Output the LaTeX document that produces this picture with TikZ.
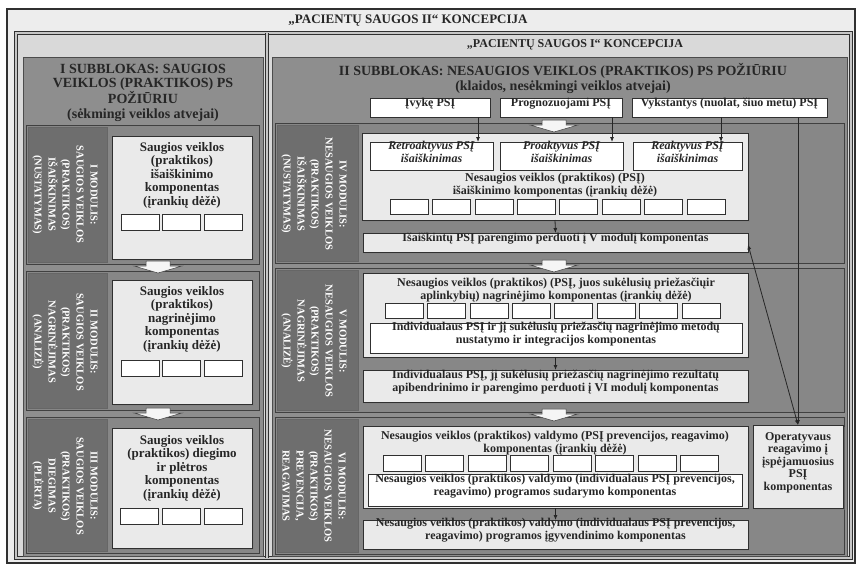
\documentclass[tikz,border=0pt]{standalone}
\usepackage{fontspec}
\setmainfont{Liberation Serif}
\usetikzlibrary{shadows,calc,fit,arrows.meta}
\definecolor{outerbg}{HTML}{EDEDED}
\definecolor{headbg}{HTML}{D9D9D9}
\definecolor{subbg}{HTML}{8E8E8E}
\definecolor{modbg}{HTML}{878787}
\definecolor{labbg}{HTML}{6E6E6E}
\definecolor{compbg}{HTML}{EAEAEA}
\definecolor{edge}{HTML}{303030}
\tikzset{
  frm/.style={draw=edge, line width=1pt},
  rect/.style={inner sep=0pt, outer sep=0pt},
  subfr/.style={rect, draw=black!70, fill=subbg, line width=.8pt},
  modfr/.style={rect, draw=black!75, fill=modbg, line width=.8pt},
  labcol/.style={rect, draw=black!60, fill=labbg, line width=.6pt},
  labtxt/.style={text=white, font=\bfseries\fontsize{10.5}{14}\selectfont, align=center, rotate=-90, inner sep=0pt},
  comp/.style={rect, draw=edge, fill=compbg, line width=.6pt, drop shadow={shadow xshift=1.5pt, shadow yshift=-1.5pt, opacity=.5}},
  wbox/.style={rect, draw=edge, fill=white, line width=.8pt, drop shadow={shadow xshift=1.2pt, shadow yshift=-1.2pt, opacity=.5}},
  tinybox/.style={draw=edge, fill=white, line width=.6pt, minimum width=38pt, minimum height=16pt, inner sep=0pt},
  ltext/.style={font=\bfseries\fontsize{13}{13.5}\selectfont, align=center, text=black!85, inner sep=0pt},
  rtext/.style={font=\bfseries\fontsize{12}{13}\selectfont, align=center, text=black!85},
  ititle/.style={font=\bfseries\fontsize{12}{12.5}\selectfont\itshape, align=center, text=black!85},
  sbtitle/.style={font=\bfseries\fontsize{14}{14.5}\selectfont, align=center, text=black!85, inner sep=0pt},
  arr/.style={-{Latex[length=5pt,width=4pt]}, line width=.8pt, draw=black!85},
  darr/.style={{Latex[length=5pt,width=4pt]}-{Latex[length=5pt,width=4pt]}, line width=.8pt, draw=black!85},
  blkarrow/.pic={\filldraw[fill=gray!8, draw=gray!50!black, line width=.5pt]
     (-12,-6) -- (12,-6) -- (12,-1) -- (24,-1) -- (0,6) -- (-24,-1) -- (-12,-1) -- cycle;}
}
\begin{document}
\begin{tikzpicture}[x=1pt,y=-1pt]
\useasboundingbox[fill=white] (0,0) rectangle (859,568);
% outer frames
\node[rect, frm, fill=outerbg, line width=1.3pt, fit={(7,9) (855,563)}] (outer) {};
\node[font=\bfseries\fontsize{13}{14}\selectfont, text=black!85] (title1) at (408,21) {„PACIENTŲ SAUGOS II“ KONCEPCIJA};
\node[rect, frm, fill=headbg, double=gray!45, double distance=1.2pt, fit={(16,33) (851,558)}] (inner) {};
\coordinate (dtop) at (267,33);
\coordinate (dbot) at (267,558);
\draw[frm, double=gray!45, double distance=1.2pt] (dtop) -- (dbot);
\node[font=\bfseries\fontsize{12}{13}\selectfont, text=black!85] (title2) at (575,45) {„PACIENTŲ SAUGOS I“ KONCEPCIJA};

% subblocks
\node[subfr, fit={(23,57) (263,556)}] (sub1) {};
\node[sbtitle] (sub1t) at (143,92.5) {I SUBBLOKAS: SAUGIOS\\VEIKLOS (PRAKTIKOS) PS\\POŽIŪRIU\\(sėkmingi veiklos atvejai)};
\node[subfr, fit={(272,57) (847,556)}] (sub2) {};
\node[sbtitle] (sub2t) at (563,78.5) {II SUBBLOKAS: NESAUGIOS VEIKLOS (PRAKTIKOS) PS POŽIŪRIU\\(klaidos, nesėkmingi veiklos atvejai)};

% ---------- left modules ----------
\node[modfr, fit={(26,125) (259,264)}] (m1) {};
\node[labcol, fit={(28,127) (107,262)}] (m1l) {};
\node[labtxt] (m1lt) at (65,194.5) {I MODULIS:\\SAUGIOS VEIKLOS\\(PRAKTIKOS)\\IŠAIŠKINIMAS\\(NUSTATYMAS)};
\node[comp, fit={(112,136) (252,259)}] (m1c) {};
\node[ltext] (m1ct) at (182,175) {Saugios veiklos\\(praktikos)\\išaiškinimo\\komponentas\\(įrankių dėžė)};
\foreach \i in {0,1,2} \node[tinybox] (m1b\i) at ({140+41.5*\i},222.5) {};

\node[modfr, fit={(26,271) (259,410)}] (m2) {};
\node[labcol, fit={(28,273) (107,408)}] (m2l) {};
\node[labtxt] (m2lt) at (65,342) {II MODULIS:\\SAUGIOS VEIKLOS\\(PRAKTIKOS)\\NAGRINĖJIMAS\\(ANALIZĖ)};
\node[comp, fit={(112,280) (252,404)}] (m2c) {};
\node[ltext] (m2ct) at (182,319) {Saugios veiklos\\(praktikos)\\nagrinėjimo\\komponentas\\(įrankių dėžė)};
\foreach \i in {0,1,2} \node[tinybox] (m2b\i) at ({140+41.5*\i},368) {};

\node[modfr, fit={(26,417) (259,553)}] (m3) {};
\node[labcol, fit={(28,419) (107,551)}] (m3l) {};
\node[labtxt] (m3lt) at (65,486) {III MODULIS:\\SAUGIOS VEIKLOS\\(PRAKTIKOS)\\DIEGIMAS\\(PLĖRTA)};
\node[comp, fit={(112,428) (252,548)}] (m3c) {};
\node[ltext] (m3ct) at (182,468) {Saugios veiklos\\(praktikos) diegimo\\ir plėtros\\komponentas\\(įrankių dėžė)};
\foreach \i in {0,1,2} \node[tinybox] (m3b\i) at ({139+42*\i},516.5) {};

\pic at (158,267) {blkarrow};
\pic at (158,414) {blkarrow};

% ---------- right: sources ----------
\node[wbox, rtext, fit={(370,98) (490,117)}] (s1) {Įvykę PSĮ};
\node[wbox, rtext, fit={(500,98) (622,117)}] (s2) {Prognozuojami PSĮ};
\node[wbox, rtext, fit={(632,98) (827,117)}] (s3) {Vykstantys (nuolat, šiuo metu) PSĮ};

% module IV
\node[modfr, fit={(275,123) (844,263)}] (m4) {};
\node[labcol, fit={(277,125) (358,261)}] (m4l) {};
\node[labtxt] (m4lt) at (314,194) {IV MODULIS:\\NESAUGIOS VEIKLOS\\(PRAKTIKOS)\\IŠAIŠKINIMAS\\(NUSTATYMAS)};
\node[comp, fit={(362,133) (748,220)}] (m4c) {};
\node[wbox, ititle, fit={(370,142) (493,170)}] (r1) {Retroaktyvus PSĮ\\išaiškinimas};
\node[wbox, ititle, fit={(500,142) (623,170)}] (r2) {Proaktyvus PSĮ\\išaiškinimas};
\node[wbox, ititle, fit={(633,142) (742,170)}] (r3) {Reaktyvus PSĮ\\išaiškinimas};
\node[rtext, font=\bfseries\fontsize{12}{12.5}\selectfont, inner sep=0pt] (m4ct) at (555,185) {Nesaugios veiklos (praktikos) (PSĮ)\\išaiškinimo komponentas (įrankių dėžė)};
\foreach \i in {0,...,7} \node[tinybox, minimum height=15pt] (m4b\i) at ({409+42.4*\i},206.5) {};
\node[comp, rtext, fit={(363,233) (748,252)}] (isk) {Išaiškintų PSĮ parengimo perduoti į  V modulį  komponentas};

% module V
\node[modfr, fit={(275,268) (844,412)}] (m5) {};
\node[labcol, fit={(277,270) (358,410)}] (m5l) {};
\node[labtxt] (m5lt) at (314,341) {V MODULIS:\\NESAUGIOS VEIKLOS\\(PRAKTIKOS)\\NAGRINĖJIMAS\\(ANALIZĖ)};
\node[comp, fit={(363,273) (748,357)}] (m5c) {};
\node[rtext, inner sep=0pt] (m5ct) at (556,290.5) {Nesaugios veiklos (praktikos) (PSĮ, juos sukėlusių priežasčiųir\\aplinkybių) nagrinėjimo komponentas (įrankių dėžė)};
\foreach \i in {0,...,7} \node[tinybox, minimum height=15pt] (m5b\i) at ({404+42.4*\i},310.5) {};
\node[wbox, rtext, fit={(370,323) (742,353)}] (m5w) {Individualaus PSĮ ir jį sukėlusių priežasčių nagrinėjimo metodų\\nustatymo ir integracijos komponentas};
\node[comp, rtext, fit={(363,370) (748,402)}] (m5v) {Individualaus PSĮ, jį sukėlusių priežasčių nagrinėjimo rezultatų\\apibendrinimo ir parengimo perduoti į VI modulį komponentas};

% module VI
\node[modfr, fit={(275,417) (844,554)}] (m6) {};
\node[labcol, fit={(277,419) (358,552)}] (m6l) {};
\node[labtxt] (m6lt) at (314,486) {VI MODULIS:\\NESAUGIOS VEIKLOS\\(PRAKTIKOS)\\PREVENCIJA,\\REAGAVIMAS};
\node[comp, fit={(363,426) (748,508)}] (m6c) {};
\node[rtext, font=\bfseries\fontsize{12}{12.5}\selectfont, inner sep=0pt] (m6ct) at (555,443) {Nesaugios veiklos (praktikos) valdymo (PSĮ prevencijos, reagavimo)\\komponentas (įrankių dėžė)};
\foreach \i in {0,...,7} \node[tinybox] (m6b\i) at ({402+42.5*\i},463) {};
\node[wbox, rtext, fit={(368,474) (742,506)}] (m6w) {Nesaugios veiklos (praktikos) valdymo (individualaus PSĮ prevencijos,\\reagavimo) programos sudarymo komponentas};
\node[comp, rtext, fit={(363,520) (748,549)}] (m6v) {Nesaugios veiklos (praktikos) valdymo (individualaus PSĮ  prevencijos,\\reagavimo)  programos įgyvendinimo komponentas};
\node[comp, font=\bfseries\fontsize{12}{12.5}\selectfont, align=center, text=black!85, fit={(753,425) (843,508)}] (op) {Operatyvaus\\reagavimo į\\įspėjamuosius\\PSĮ\\komponentas};

\pic at (554,126) {blkarrow};
\pic at (554,266) {blkarrow};
\pic at (554,415) {blkarrow};

% connectors
\coordinate (a1) at (478,0);
\coordinate (a2) at (612,0);
\coordinate (a3) at (721,0);
\draw[arr] (s1.south -| a1) -- (r1.north -| a1);
\draw[arr] (s2.south -| a2) -- (r2.north -| a2);
\draw[arr] (s3.south -| a3) -- (r3.north -| a3);
\draw[arr] (s3.south -| op.north) -- (op.north);
\draw[darr] ($(isk.east)+(0,2)$) -- (op.north);
\draw[arr] (m4c.south) -- (isk.north);
\draw[arr] (m5c.south) -- (m5v.north);
\draw[arr] (m6c.south) -- (m6v.north);
\end{tikzpicture}
\end{document}
